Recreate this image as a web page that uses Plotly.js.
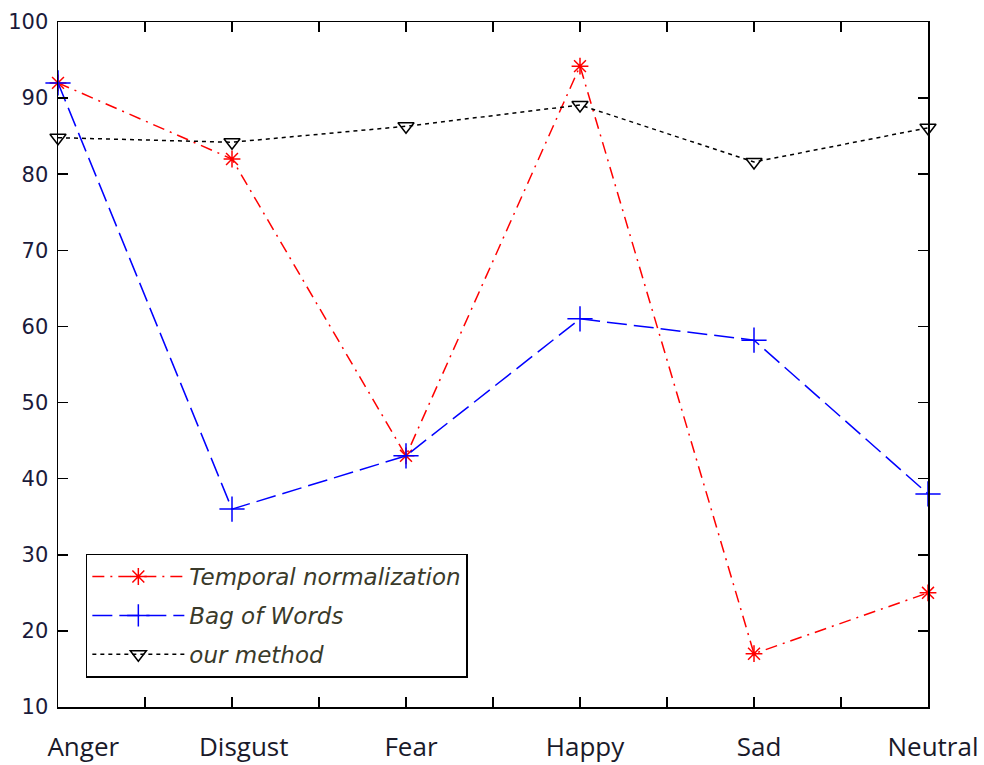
<!DOCTYPE html>
<html>
<head>
<meta charset="utf-8">
<script src="https://cdn.plot.ly/plotly-3.0.1.min.js"></script>
<style>html,body{margin:0;padding:0;background:#fff;}#chart{width:984px;height:765px;}</style>
</head>
<body>
<div id="chart"></div>
<script>
const categories = ["Anger", "Disgust", "Fear", "Happy", "Sad", "Neutral"];
const temporalNormalization = [92, 82, 43, 94.2, 17, 25];
const bagOfWords = [92, 36, 43, 61, 58.2, 38];
const ourMethod = [84.8, 84.2, 86.3, 89.1, 81.6, 86.1];
const yTicks = [10, 20, 30, 40, 50, 60, 70, 80, 90, 100];

// leading non-breaking spaces nudging labels the way the original figure places them
const labelPad = [6, 2, 0, 0, 0, 0];

const xIdx = categories.map((c, i) => i);
const xTickVals = [];
const xTickText = [];
for (let i = 0; i < categories.length; i++) {
  xTickVals.push(i); xTickText.push("\u00a0".repeat(labelPad[i]) + categories[i]);
  if (i < categories.length - 1) { xTickVals.push(i + 0.5); xTickText.push(""); }
}

const traces = [
  {
    x: xIdx, y: temporalNormalization, name: "Temporal normalization", legendgroup: "a",
    mode: "lines+markers", cliponaxis: false,
    line: {color: "#ff0000", width: 1.5, dash: "12px,6px,2px,6px"},
    marker: {symbol: "asterisk-open", size: 14, line: {color: "#ff0000", width: 1.5}, color: "#ff0000"}
  },
  {
    x: xIdx, y: bagOfWords, name: "Bag of Words", legendgroup: "b",
    mode: "lines+markers", cliponaxis: false,
    line: {color: "#0000ff", width: 1.5, dash: "20px,7px"},
    marker: {symbol: "cross-thin-open", size: 18, line: {color: "#0000ff", width: 1.5}, color: "#0000ff"}
  },
  {
    x: xIdx, y: ourMethod, name: "our method", legendgroup: "c",
    mode: "lines+markers", cliponaxis: false,
    line: {color: "#000000", width: 1.5, dash: "4px,4px"},
    marker: {symbol: "triangle-down-open", size: 14, line: {color: "#000000", width: 1.5}, color: "#000000"}
  }
];

const layout = {
  width: 984, height: 765,
  margin: {l: 58, r: 56, t: 22, b: 58},
  paper_bgcolor: "#ffffff", plot_bgcolor: "#ffffff",
  showlegend: true,
  legend: {
    x: 0.032, y: 0.224, xanchor: "left", yanchor: "top",
    bordercolor: "#000000", borderwidth: 1.5, bgcolor: "#ffffff",
    font: {family: "DejaVu Sans", size: 23, color: "#3a3a2a", style: "italic"},
    traceorder: "grouped", tracegroupgap: 6,
    itemwidth: 92
  },
  xaxis: {
    range: [0, 5], tickvals: xTickVals, ticktext: xTickText,
    ticks: "inside", ticklen: 10, tickwidth: 1.5, tickcolor: "#000",
    showline: true, linecolor: "#000", linewidth: 1.5, mirror: "ticks",
    showgrid: false, zeroline: false,
    ticklabelstandoff: 16, ticklabelshift: 5,
    tickfont: {family: "Open Sans", size: 26, color: "#1a1a2a"}
  },
  yaxis: {
    range: [10, 100], tickvals: yTicks,
    ticks: "inside", ticklen: 10, tickwidth: 1.5, tickcolor: "#000",
    showline: true, linecolor: "#000", linewidth: 1.5, mirror: "ticks",
    showgrid: false, zeroline: false,
    ticklabelstandoff: 4,
    tickfont: {family: "DejaVu Sans", size: 21, color: "#1a1a3a"}
  }
};

Plotly.newPlot("chart", traces, layout, {displayModeBar: false, staticPlot: true});
</script>
</body>
</html>
